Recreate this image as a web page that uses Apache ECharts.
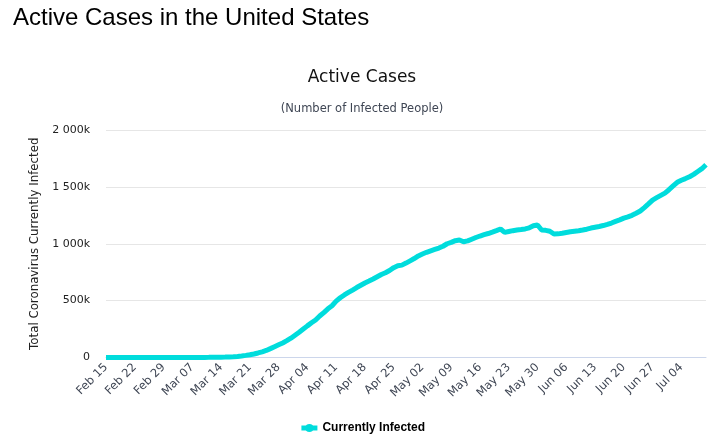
<!DOCTYPE html>
<html>
<head>
<meta charset="utf-8">
<script src="https://cdn.jsdelivr.net/npm/echarts@6/dist/echarts.min.js"></script>
<style>
html,body{margin:0;padding:0;background:#fff;}
#chart{width:724px;height:446px;}
</style>
</head>
<body>
<div id="chart"></div>
<script>
// Daily categories: Feb 15 .. Jul 10 (2020)
var startDate = [2020, 1, 15];
var dayCount = 147;
var monthNames = ['Jan','Feb','Mar','Apr','May','Jun','Jul','Aug','Sep','Oct','Nov','Dec'];

var febValues = [13,13,13,13,13,13,22,28,30,46,48,50,52,53,57];
var marValues = [65,85,105,137,200,250,380,470,550,900,
  1200,1550,2100,2700,3400,4400,6200,8800,13500,18500,
  24000,31000,40000,50000,62000,78000,95000,112000,128000,148000,170000];
var aprValues = [196000,222000,250000,278000,305000,330000,365000,395000,428000,455000,
  495000,525000,550000,572000,593000,615000,635000,655000,672000,690000,
  710000,730000,745000,765000,790000,807000,812000,830000,850000,870000];
var mayValues = [893000,910000,925000,938000,950000,962000,978000,1000000,1012000,1027000,
  1033000,1018000,1025000,1040000,1055000,1068000,1080000,1090000,1102000,1115000,
  1130000,1100000,1108000,1115000,1121000,1125000,1130000,1140000,1158000,1165000,
  1121000];
var junValues = [1118000,1110000,1086000,1087000,1092000,1099000,1105000,1110000,1115000,1121000,
  1128000,1138000,1145000,1152000,1160000,1170000,1182000,1197000,1210000,1225000,
  1236000,1250000,1268000,1288000,1318000,1350000,1384000,1405000,1425000,1445000];
var julValues = [1475000,1508000,1540000,1558000,1573000,1589000,1610000,1635000,1660000,1695000];

var yTicks = [0, 500000, 1000000, 1500000, 2000000];

var categories = [];
for (var i = 0; i < dayCount; i++) {
  var d = new Date(Date.UTC(startDate[0], startDate[1], startDate[2] + i));
  var dd = d.getUTCDate();
  categories.push(monthNames[d.getUTCMonth()] + ' ' + (dd < 10 ? '0' + dd : '' + dd));
}
var activeCases = [].concat(febValues, marValues, aprValues, mayValues, junValues, julValues);

var chart = echarts.init(document.getElementById('chart'), null, {renderer: 'canvas'});
var font = 'DejaVu Sans';
chart.setOption({
  backgroundColor: '#ffffff',
  animation: false,
  title: [
    {text: 'Active Cases in the United States', left: 8, top: 1,
     textStyle: {fontFamily: 'Liberation Sans', fontSize: 24, fontWeight: 'normal', color: '#000'}},
    {text: 'Active Cases', left: 'center', top: 64,
     textStyle: {fontFamily: font, fontSize: 17, fontWeight: 'normal', color: '#111'}},
    {text: '(Number of Infected People)', left: 'center', top: 98,
     textStyle: {fontFamily: font, fontSize: 11.5, fontWeight: 'normal', color: '#3f4654'}}
  ],
  legend: {
    bottom: 7, left: 'center',
    itemWidth: 16, itemHeight: 10, itemGap: 6,
    lineStyle: {width: 5},
    textStyle: {fontFamily: 'Liberation Sans', fontSize: 12, fontWeight: 'bold', color: '#000'},
    data: ['Currently Infected']
  },
  grid: {left: 106, right: 18, top: 130, bottom: 88.5, containLabel: false},
  xAxis: {
    type: 'category',
    data: categories,
    boundaryGap: false,
    axisLine: {lineStyle: {color: '#ccd6eb'}},
    axisTick: {show: false},
    axisLabel: {interval: 6, rotate: 45, fontFamily: font, fontSize: 11.5, color: '#3f4654', margin: 8}
  },
  yAxis: {
    type: 'value',
    min: yTicks[0], max: yTicks[yTicks.length - 1], interval: yTicks[1] - yTicks[0],
    name: 'Total Coronavirus Currently Infected',
    nameLocation: 'middle', nameGap: 64,
    nameTextStyle: {fontFamily: font, fontSize: 11.8, color: '#222'},
    axisLine: {show: false},
    axisTick: {show: false},
    splitLine: {lineStyle: {color: '#e6e6e6'}},
    axisLabel: {
      fontFamily: font, fontSize: 11, color: '#222', margin: 16,
      formatter: function (v) {
        if (v === 0) return '0';
        var k = Math.round(v / 1000);
        var s = String(k).replace(/\B(?=(\d{3})+(?!\d))/g, ' ');
        return s + 'k';
      }
    }
  },
  series: [{
    name: 'Currently Infected',
    type: 'line',
    data: activeCases,
    symbol: 'circle',
    symbolSize: 9,
    showSymbol: false,
    lineStyle: {width: 5, color: '#00dcdc'},
    itemStyle: {color: '#00dcdc'}
  }]
});
</script>
</body>
</html>
